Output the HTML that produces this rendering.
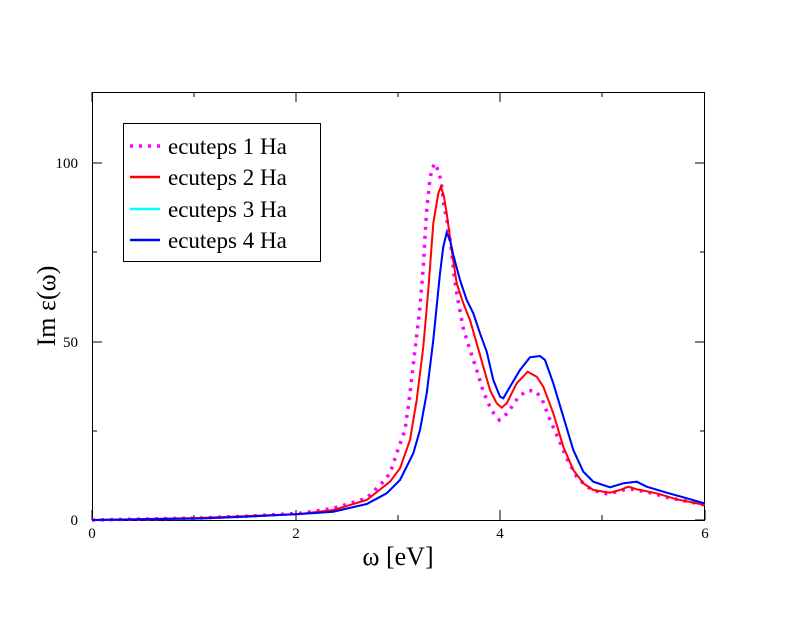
<!DOCTYPE html>
<html><head><meta charset="utf-8"><style>body{margin:0;background:#fff}</style></head><body>
<svg width="792" height="612" xmlns="http://www.w3.org/2000/svg" font-family="Liberation Serif, serif">
<rect width="792" height="612" fill="#fff"/>
<g stroke="#000" stroke-width="1" fill="none">
<rect x="92.5" y="92.5" width="612" height="428"/>
<path d="M92 520v-10M296 520v-10M500 520v-10M705 520v-10M194 520v-5M398 520v-5M602 520v-5M92 92v10M296 92v10M500 92v10M194 92v5M398 92v5M602 92v5
M92 520h10M92 342h10M92 163h10M92 431h5M92 252h5M705 520h-10M705 342h-10M705 163h-10M705 431h-5M705 252h-5"/>
</g>
<g font-size="15" text-anchor="middle">
<text x="92" y="538">0</text><text x="296" y="538">2</text><text x="500" y="538">4</text><text x="705" y="538">6</text>
<text x="78" y="525" text-anchor="end">0</text><text x="78" y="347" text-anchor="end">50</text><text x="78" y="168" text-anchor="end">100</text>
</g>
<text x="398" y="565" font-size="26" text-anchor="middle">ω [eV]</text>
<text transform="translate(55,306) rotate(-90)" font-size="26" text-anchor="middle">Im ε(ω)</text>
<polyline fill="none" stroke="#f0f" stroke-width="3.5" stroke-dasharray="3,6" points="92,520 200,518 250,516 300,513.3 333.3,508.3 366.7,498.3 381.7,483.3 390,473.3 396.7,453.3 405,430 410,393.3 415,350 420,306.7 423.3,266.7 425,236.7 426.7,210 429.3,185 431.7,169.3 435,163.3 439.3,173.3 441.7,186 444,206.7 446.7,218.3 451.7,251.7 454,275 457.3,296.7 463.3,328.3 470,350 476.7,370 483.3,391.7 491.7,410.7 499.3,420 507.3,413.3 518.3,397.3 526.7,390.7 535,390.7 541.7,398.3 550,420 558.3,438.3 566.7,458.3 576.7,476.7 586.7,486.7 600,492.7 608.3,494 623.3,490 633.3,489.3 650,492.7 666.7,497.3 705,505"/>
<polyline fill="none" stroke="#0ff" stroke-width="2" points="92,520 200,518.5 250,516.5 300,514 333.3,511.7 366.7,504 386.7,493.3 400,480 413.3,453.3 420,430 426.7,393.3 433.3,340 440,273.3 443.3,246.7 446.7,232.7 450,240 453.3,255 460,280 466.7,300 473.3,313.3 480,333.3 486.7,351.7 493.3,380 500,396.7 503.3,398.3 510,386.7 520,370 530,357.3 540,356 545,360 553.3,383.3 563.3,416.7 573.3,450 583.3,471.7 593.3,481.7 610,487.3 623.3,483.3 636.7,481.7 646.7,486.7 666.7,492.7 683.3,497.3 705,503.5"/>
<polyline fill="none" stroke="#f00" stroke-width="2" points="92,520 200,518 250,516 300,514 333.3,510 366.7,500 390,481.7 400,468.3 410,440 416.7,400 423.3,346.7 428.3,290 433.3,223.3 438.3,193.3 441,186.7 444,196.7 446.7,213.3 451.7,250 456.7,283.3 463.3,303.3 470,320 476.7,343.3 483.3,366.7 490,390 496.7,403.3 501.7,407.7 506.7,403.3 516.7,383.3 527.7,371.7 536.7,376.7 543.3,386.7 553.3,413.3 563.3,446.7 573.3,470 583.3,483.3 593.3,490 610,492.7 620,490 628.3,486.7 636.7,489.3 656.7,493.3 676.7,499.3 705,505"/>
<polyline fill="none" stroke="#00f" stroke-width="2" points="92,520 200,518.5 250,516.5 300,514 333.3,511.7 366.7,504 386.7,493.3 400,480 413.3,453.3 420,430 426.7,393.3 433.3,340 440,273.3 443.3,246.7 446.7,232.7 450,240 453.3,255 460,280 466.7,300 473.3,313.3 480,333.3 486.7,351.7 493.3,380 500,396.7 503.3,398.3 510,386.7 520,370 530,357.3 540,356 545,360 553.3,383.3 563.3,416.7 573.3,450 583.3,471.7 593.3,481.7 610,487.3 623.3,483.3 636.7,481.7 646.7,486.7 666.7,492.7 683.3,497.3 705,503.5"/>
<rect x="123.5" y="123.5" width="197" height="138" fill="#fff" stroke="#000"/>
<g stroke-width="2.5" fill="none">
<line x1="130" y1="146" x2="160" y2="146" stroke="#f0f" stroke-width="3.5" stroke-dasharray="3,6"/>
<line x1="130" y1="177" x2="160" y2="177" stroke="#f00"/>
<line x1="130" y1="209" x2="160" y2="209" stroke="#0ff"/>
<line x1="130" y1="240" x2="160" y2="240" stroke="#00f"/>
</g>
<g font-size="23">
<text x="168" y="154">ecuteps 1 Ha</text>
<text x="168" y="185">ecuteps 2 Ha</text>
<text x="168" y="217">ecuteps 3 Ha</text>
<text x="168" y="248">ecuteps 4 Ha</text>
</g>
</svg>
</body></html>
